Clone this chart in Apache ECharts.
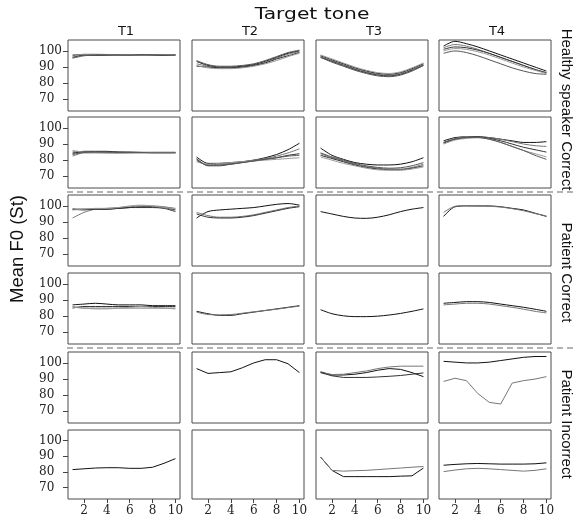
<!DOCTYPE html>
<html>
<head>
<meta charset="utf-8">
<script src="https://cdn.jsdelivr.net/npm/echarts@6/dist/echarts.min.js"></script>
<style>html,body{margin:0;padding:0;background:#fff}#c{width:577px;height:517px}</style>
</head>
<body>
<div id="c"></div>
<script>
// ---------- data ----------
const XVALS = [1, 2, 3, 4, 5, 6, 7, 8, 9, 10];
const XTICKS = [2, 4, 6, 8, 10];
const YTICKS = [70, 80, 90, 100];
const TONES = ['T1', 'T2', 'T3', 'T4'];
const GROUPS = ['Healthy speaker Correct', 'Patient Correct', 'Patient Incorrect'];
const TITLE = 'Target tone';
const YTITLE = 'Mean F0 (St)';

// row 1 (healthy speaker correct, upper)
const r1_T1 = [
  [96, 97.5, 97.5, 97.5, 97.5, 97.5, 97.5, 97.5, 97.5, 97.5],
  [97, 97.8, 97.8, 97.5, 97.5, 97.8, 97.5, 97.3, 97.5, 97.5],
  [97.5, 97.5, 97.3, 97.5, 97.6, 97.5, 97.8, 97.5, 97.3, 97.7],
  [96.5, 98, 98, 97.8, 97.6, 97.6, 97.4, 97.6, 97.8, 97.6],
  [95.5, 97, 97.5, 97.6, 97.5, 97.4, 97.5, 97.6, 97.5, 97.4]
];
const r1_T2 = [
  [93.5, 91, 90, 90, 90.5, 91.5, 93.5, 96, 98.5, 100],
  [92, 90.5, 89.5, 89.5, 90, 91, 93, 95.5, 98, 99.5],
  [90.5, 90, 89.5, 89.5, 90, 91, 92.5, 95, 97, 99],
  [91, 89.5, 89, 89, 89.5, 90.5, 92, 94, 96.5, 98.5],
  [94, 91.5, 90.5, 90.5, 91, 92, 94, 96.5, 99, 100.5]
];
const r1_T3 = [
  [97, 94.5, 92, 89.5, 87.5, 86, 85.5, 86.5, 89, 92],
  [96.5, 94, 91.5, 89, 87, 85.5, 85, 86, 88.5, 91.5],
  [96, 93.5, 91, 88.5, 86.5, 85, 84.5, 85.5, 88, 91],
  [97.5, 95, 92.5, 90, 88, 86.5, 86, 87, 89.5, 92.5],
  [96, 93, 90.5, 88, 86, 84.5, 84, 85, 87.5, 91]
];
const r1_T4 = [
  [103, 106, 104.5, 102.5, 100, 97.5, 95, 92.5, 90, 87.5],
  [102, 104, 103, 101, 98.5, 96, 93.5, 91, 88.5, 86.5],
  [101, 102.5, 102, 100.5, 98.5, 96, 93.5, 91, 88.5, 86.5],
  [100, 101.5, 101, 99.5, 97.5, 95, 92.5, 90, 88, 86],
  [98.5, 100, 99, 97, 94.5, 92, 89.5, 87.5, 86, 85.5]
];

// row 2 (healthy speaker correct, lower)
const r2_T1 = [
  [85, 85, 85, 85, 85, 85, 84.8, 84.8, 84.8, 84.8],
  [82.5, 84.5, 84.5, 84.5, 84.5, 84.5, 84.5, 84.5, 84.5, 84.5],
  [84, 85.5, 85.5, 85.5, 85, 84.8, 84.8, 84.8, 84.8, 84.8],
  [86, 85, 84.8, 84.5, 84.3, 84.5, 84.6, 84.8, 84.8, 84.8],
  [83.5, 84.8, 85, 85, 84.8, 84.8, 84.8, 84.5, 84.5, 84.5]
];
const r2_T2 = [
  [82, 78, 78, 78.5, 79, 80, 81.5, 83.5, 86.5, 90.5],
  [80.5, 77, 77.5, 78, 79, 80, 81, 82.5, 84.5, 87],
  [81, 76.5, 76.5, 77.5, 78.5, 79.5, 80.5, 81.5, 83, 84],
  [79, 77.5, 78, 78.5, 79, 79.5, 80, 80.5, 81, 81.5],
  [80, 76.8, 77, 77.5, 78.5, 79.5, 80.5, 81.5, 82.5, 83]
];
const r2_T3 = [
  [87.5, 83, 80.5, 78.5, 77.5, 77, 77, 77.5, 79, 81.5],
  [84, 81.5, 79.5, 77.5, 76, 75, 74.5, 74.5, 75.5, 77.5],
  [83, 81, 79, 77, 75.5, 74.5, 74, 74, 75, 76.5],
  [82, 80, 78, 76.5, 75, 74, 73.8, 73.8, 74.5, 75.8],
  [84.5, 82, 80, 78, 76.5, 75.5, 75, 75.3, 76.5, 78.5]
];
const r2_T4 = [
  [92, 94, 94.5, 94.5, 94, 93, 92, 91, 91, 91.5],
  [91, 93.5, 94.5, 94.5, 94, 93, 91.5, 90, 89, 88.5],
  [90.5, 93, 94, 94.5, 93.5, 92, 90, 88, 86.5, 85],
  [90, 92.5, 93.5, 94, 93, 91, 88.5, 86, 84, 82],
  [91, 93, 94, 94, 93, 91, 88.5, 86, 83, 80.5]
];

// row 3 (patient correct, upper)
const r3_T1 = [
  [98, 98, 98, 98, 98.5, 99, 99.5, 99.5, 99, 97.5],
  [92.5, 96, 98, 98.5, 99, 99.5, 100, 100, 99.5, 98.5],
  [98, 97.5, 98, 98, 98.5, 99, 99, 99, 98.5, 96.5],
  [97.5, 98, 98.5, 98.5, 99, 100, 100.5, 100, 99, 98]
];
const r3_T2 = [
  [92.5, 96.5, 97.5, 98, 98.5, 99, 100, 101, 101.5, 100.5],
  [96, 94, 93, 93, 93.5, 94.5, 96, 97.5, 99, 100],
  [95, 93, 92.5, 92.5, 93, 94, 95.5, 97, 98.5, 99.5]
];
const r3_T3 = [
  [96.5, 95, 93.5, 92.5, 92.3, 93, 94.5, 96.5, 98, 99]
];
const r3_T4 = [
  [93.5, 99.5, 100, 100, 100, 99.5, 98.5, 97.5, 95.5, 93.5],
  [96, 99.8, 100.2, 100, 99.8, 99.3, 98.3, 97, 95.3, 93.8]
];

// row 4 (patient correct, lower)
const r4_T1 = [
  [87, 87.5, 88, 87.5, 87, 87, 87, 86.5, 86.5, 86.5],
  [86, 85, 85, 85, 85, 85, 85, 85, 85, 85],
  [85, 86, 86, 86, 86, 86, 86, 86, 86, 86],
  [85.5, 85, 84.5, 84.5, 85, 85.5, 86, 85.5, 85, 84.5]
];
const r4_T2 = [
  [83, 81.5, 80.5, 80.5, 81.5, 82.5, 83.5, 84.5, 85.5, 86.5],
  [82.5, 81, 80.8, 81, 81.8, 82.7, 83.5, 84.3, 85.3, 86.2]
];
const r4_T3 = [
  [84, 81.5, 80.2, 79.7, 79.7, 80, 80.7, 81.7, 83, 84.5]
];
const r4_T4 = [
  [88, 88.5, 89, 89, 88.5, 87.5, 86.5, 85.5, 84.3, 83],
  [87, 87.5, 88, 88, 87.5, 86.5, 85.5, 84.3, 83, 82]
];

// row 5 (patient incorrect, upper)
const r5_T1 = [];
const r5_T2 = [
  [96.5, 93.5, 94, 94.5, 97, 100, 102, 102, 99.5, 94]
];
const r5_T3 = [
  [94.5, 92.5, 92.5, 93, 94, 95.5, 96.5, 96, 94, 91.5],
  [94, 92.8, 93, 94, 95, 96.5, 97.5, 98, 98, 98],
  [94, 92, 91, 91, 91, 91.3, 91.7, 92.2, 93, 93.8]
];
const r5_T4 = [
  [101, 100.5, 100, 100, 100.5, 101.5, 102.5, 103.5, 104, 104],
  [88.5, 90.5, 89, 81, 75.5, 74.5, 87.5, 89, 90, 91.5]
];

// row 6 (patient incorrect, lower)
const r6_T1 = [
  [81.5, 82, 82.5, 82.7, 82.7, 82.3, 82.3, 83, 85.5, 88.5]
];
const r6_T2 = [];
const r6_T3 = [
  [89.5, 81, 77, 77, 77, 77, 77, 77.3, 77.5, 82.5],
  [89.5, 81, 80.5, 80.8, 81, 81.5, 82, 82.5, 83, 83.5]
];
const r6_T4 = [
  [84.3, 84.8, 85.2, 85.4, 85.2, 85, 85, 85, 85.2, 85.8],
  [80.2, 81.2, 82, 82.3, 82, 81.5, 81, 80.5, 81, 82]
];

const PANELS = [
  [r1_T1, r1_T2, r1_T3, r1_T4],
  [r2_T1, r2_T2, r2_T3, r2_T4],
  [r3_T1, r3_T2, r3_T3, r3_T4],
  [r4_T1, r4_T2, r4_T3, r4_T4],
  [r5_T1, r5_T2, r5_T3, r5_T4],
  [r6_T1, r6_T2, r6_T3, r6_T4]
];

// ---------- layout / style ----------
const COL_LEFT = [68, 192, 316, 439];
const COL_W = 112;
const ROW_TOP = [40, 117, 195, 273, 352, 430];
const ROW_H = 71;
const LINE_COLORS = ['#111', '#777', '#333', '#999', '#555'];

const grids = [], xAxes = [], yAxes = [], series = [];
PANELS.forEach((row, r) => {
  row.forEach((lines, c) => {
    const gi = r * 4 + c;
    grids.push({
      left: COL_LEFT[c], top: ROW_TOP[r], width: COL_W, height: ROW_H,
      show: true, borderColor: '#4a4a4a', borderWidth: 1, backgroundColor: '#fff'
    });
    const bottom = r === PANELS.length - 1;
    xAxes.push({
      type: 'value', gridIndex: gi, min: 0.6, max: 10.4,
      axisLine: { show: false },
      splitLine: { show: false },
      axisTick: { show: bottom, customValues: XTICKS, length: 4, lineStyle: { color: '#444' } },
      axisLabel: { show: bottom, customValues: XTICKS, margin: 6,
        fontFamily: 'DejaVu Serif', fontSize: 12, color: '#222' }
    });
    yAxes.push({
      type: 'value', gridIndex: gi, min: 62.7, max: 106.8,
      axisLine: { show: false },
      splitLine: { show: false },
      axisTick: { show: c === 0, customValues: YTICKS, length: 5, lineStyle: { color: '#444' } },
      axisLabel: { show: c === 0, customValues: YTICKS, align: 'left', margin: 29,
        fontFamily: 'DejaVu Serif', fontSize: 12, color: '#222' }
    });
    const smooth = r < 4 ? 0.3 : false;
    lines.forEach((vals, k) => {
      series.push({
        type: 'line', xAxisIndex: gi, yAxisIndex: gi,
        data: XVALS.map((x, i) => [x, vals[i]]),
        showSymbol: false, symbol: 'none', smooth: smooth,
        lineStyle: { width: 1, color: LINE_COLORS[k % LINE_COLORS.length] },
        emphasis: { disabled: true }, silent: true
      });
    });
  });
});

const graphics = [];
// main title
graphics.push({ type: 'text', x: 312, y: 15, scaleX: 1.35,
  style: { text: TITLE, font: '15px "DejaVu Sans"', fill: '#111', textAlign: 'center', textVerticalAlign: 'middle' } });
// column headers
TONES.forEach((t, c) => {
  graphics.push({ type: 'text', x: COL_LEFT[c] + COL_W / 2 + 2, y: 31.5,
    style: { text: t, font: '13px "DejaVu Sans"', fill: '#111', textAlign: 'center', textVerticalAlign: 'middle' } });
});
// y title
graphics.push({ type: 'text', x: 18, y: 249, rotation: Math.PI / 2,
  style: { text: YTITLE, font: '18.5px "Liberation Sans"', fill: '#111', textAlign: 'center', textVerticalAlign: 'middle' } });
// strip labels
const STRIP_Y = [109.5, 272.5, 424];
GROUPS.forEach((g, i) => {
  graphics.push({ type: 'text', x: 566, y: STRIP_Y[i], rotation: -Math.PI / 2,
    style: { text: g, font: '15px "Liberation Sans"', fill: '#111', textAlign: 'center', textVerticalAlign: 'middle' } });
});
// dashed separators
[192, 348].forEach(y => {
  graphics.push({ type: 'line', shape: { x1: 67, y1: y, x2: 577, y2: y },
    style: { stroke: '#9a9a9a', lineWidth: 1.5, lineDash: [6, 4] } });
});

const chart = echarts.init(document.getElementById('c'), null, { renderer: 'canvas' });
chart.setOption({
  animation: false,
  backgroundColor: '#fff',
  grid: grids,
  xAxis: xAxes,
  yAxis: yAxes,
  series: series,
  graphic: graphics
});
</script>
</body>
</html>
